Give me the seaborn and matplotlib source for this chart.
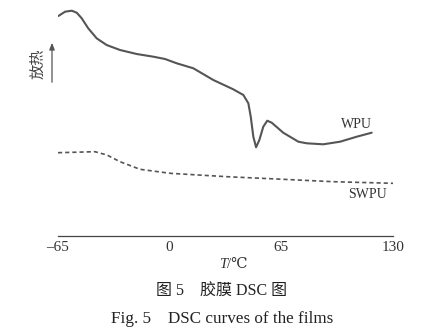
import matplotlib
matplotlib.use("Agg")
import matplotlib.pyplot as plt
import seaborn as sns
import pandas as pd

# ---- data (y = relative heat flow, arbitrary units) ----
wpu_T = [-64.8, -60.9, -57.0, -54.1, -51.2, -47.4, -42.5, -36.7, -28.9, -19.2, -9.5, -2.7,
         4.1, 13.8, 25.4, 37.0, 42.9, 45.8, 47.2, 48.7, 50.3, 52.2, 54.5, 56.8, 59.4,
         66.1, 74.9, 79.8, 89.4, 99.2, 108.9, 117.6]
wpu_y = [220, 224.3, 225.3, 223.3, 217.7, 207.7, 197.7, 191, 186, 182, 179.3, 177,
         172.7, 167.7, 156, 146.7, 141, 132.7, 119.3, 99.3, 88.7, 96, 109.3, 115.3, 113.3,
         103.3, 94.3, 92.7, 91.7, 94.3, 99.3, 103.3]
swpu_T = [-65, -43.5, -36.5, -28.9, -17.3, 0.2, 33.4, 66, 95.1, 130]
swpu_y = [83.3, 84.3, 81, 74.3, 66.7, 62.7, 59.3, 56.7, 54.3, 52.7]

major_ticks = [-65, 0, 65, 130]
minor_ticks = [-32.5, 32.5, 97.5]
tick_labels = ["–65", "0", "65", "130"]

sns.set_style("white")
plt.rcParams['font.family'] = ['Liberation Serif', 'DejaVu Serif', 'Noto Sans CJK SC']

wpu = pd.DataFrame({"T": wpu_T, "y": wpu_y})
swpu = pd.DataFrame({"T": swpu_T, "y": swpu_y})

fig = plt.figure(figsize=(4.48, 3.32), dpi=100)
ax = fig.add_axes([58/448, (332-236)/332, 335/448, 236/332])
line_color = "#555555"
sns.lineplot(data=wpu, x="T", y="y", ax=ax, color=line_color, linewidth=1.5, sort=False)
sns.lineplot(data=swpu, x="T", y="y", ax=ax, color=line_color, linewidth=1.2,
             linestyle=(0, (2.5, 1.8)), sort=False)

ax.set_xlim(-65, 130)
ax.set_ylim(0, 236)
for s in ["top", "right", "left"]:
    ax.spines[s].set_visible(False)
ax.spines["bottom"].set_color("#444444")
ax.spines["bottom"].set_linewidth(0.9)
ax.set_yticks([])
ax.set_xticks(major_ticks)
ax.set_xticklabels(tick_labels)
ax.set_xticks(minor_ticks, minor=True)
ax.tick_params(axis="x", which="major", direction="in", length=4, width=0.9,
               color="#444444", labelsize=11, pad=3.5, labelcolor="#333333")
ax.tick_params(axis="x", which="minor", direction="in", length=2, width=0.9, color="#444444")
ax.set_xlabel("")
ax.set_ylabel("")
ax.patch.set_alpha(0)

# x-axis label: italic T followed by /℃
fig.text(227/448, 1 - 265/332, "T", fontsize=10.5, style="italic", color="#333333",
         ha="right", va="center")
fig.text(227/448, 1 - 265/332, "/℃", fontsize=10.5, color="#333333",
         ha="left", va="center", family=['Liberation Serif', 'DejaVu Serif'])

ax.text(109, 111, "WPU", fontsize=10, color="#333333", ha="center", va="center")
ax.text(115, 41, "SWPU", fontsize=10, color="#333333", ha="center", va="center")

# y-axis indicator: 放热 with upward arrow
fig.text(38/448, 1 - 64/332, "放热", rotation=90, fontsize=11, color="#444444",
         ha="center", va="center", family=['Noto Sans CJK SC'])
fig.patches.append(matplotlib.patches.FancyArrowPatch(
    (52/448, 1 - 85/332), (52/448, 1 - 40/332), transform=fig.transFigure,
    arrowstyle="-|>,head_length=4,head_width=1.6", color="#555555", linewidth=0.9))

fig.text(222/448, 1 - 292/332, "图 5    胶膜 DSC 图", fontsize=11.5, color="#222222",
         ha="center", va="center", family=['Liberation Serif', 'Noto Sans CJK SC'])
fig.text(222/448, 1 - 319/332, "Fig. 5    DSC curves of the films", fontsize=12.3,
         color="#222222", ha="center", va="center")

fig.savefig("out.png", dpi=100, facecolor="white")
